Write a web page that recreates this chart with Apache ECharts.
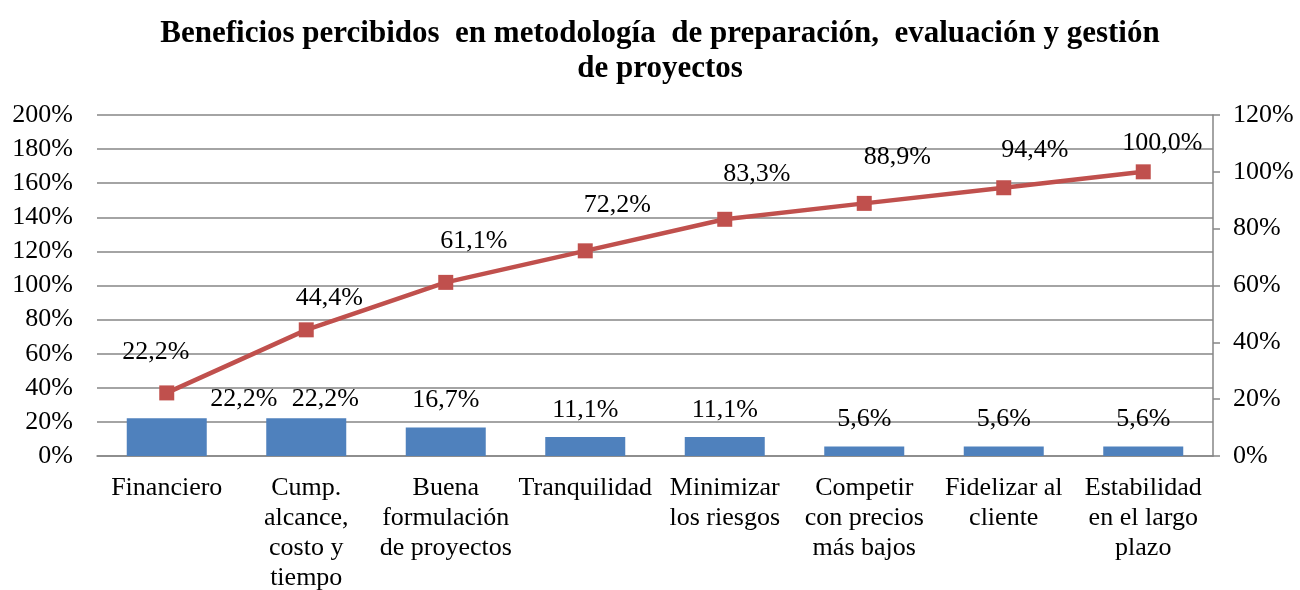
<!DOCTYPE html>
<html>
<head>
<meta charset="utf-8">
<script src="https://cdn.jsdelivr.net/npm/echarts@6/dist/echarts.min.js"></script>
<style>
  html, body { margin: 0; padding: 0; background: #fff; }
  #chart { width: 1300px; height: 590px; }
</style>
</head>
<body>
<div id="chart"></div>
<script>
const categories = [
  "Financiero",
  "Cump.\nalcance,\ncosto y\ntiempo",
  "Buena\nformulación\nde proyectos",
  "Tranquilidad",
  "Minimizar\nlos riesgos",
  "Competir\ncon precios\nmás bajos",
  "Fidelizar al\ncliente",
  "Estabilidad\nen el largo\nplazo",
];
const frequency = [22.2, 22.2, 16.7, 11.1, 11.1, 5.6, 5.6, 5.6];
const cumulative = [22.2, 44.4, 61.1, 72.2, 83.3, 88.9, 94.4, 100.0];

// hand-placed label nudges from the original chart
const barLabelOffsets = [[77, 8], [19, 8], [0, 0], [0, 0], [0, 0], [0, 0], [0, 0], [0, 0]];
const lineLabelOffsets = [[-11, -41], [23, -32], [28, -41], [32, -46], [32, -45], [33, -46], [31, -38], [19, -29]];

const font = "'Liberation Serif', 'Times New Roman', serif";
const gridColor = "#868686";
const labelSize = 26;

function pct(value) {
  return value.toFixed(1).replace(".", ",") + "%";
}

const chart = echarts.init(document.getElementById("chart"));

chart.setOption({
  animation: false,
  backgroundColor: "#fff",
  textStyle: { fontFamily: font },
  title: {
    text: "Beneficios percibidos  en metodología  de preparación,  evaluación y gestión\nde proyectos",
    left: 655,
    textAlign: "center",
    top: 11,
    textStyle: {
      fontFamily: font,
      fontSize: 31,
      fontWeight: "bold",
      color: "#000",
      lineHeight: 35,
    },
  },
  grid: { left: 97, right: 87, top: 115, bottom: 134, outerBoundsMode: "none" },
  xAxis: {
    type: "category",
    data: categories,
    axisLine: { lineStyle: { color: gridColor, width: 1.5 } },
    axisTick: { show: false },
    axisLabel: {
      color: "#000",
      fontFamily: font,
      fontSize: labelSize,
      lineHeight: 30,
      margin: 17,
      interval: 0,
    },
  },
  yAxis: [
    {
      type: "value",
      min: 0,
      max: 200,
      interval: 20,
      axisLine: { show: false },
      axisTick: { show: false },
      splitLine: { lineStyle: { color: gridColor, width: 1.5 } },
      axisLabel: {
        color: "#000",
        fontFamily: font,
        fontSize: labelSize,
        margin: 24,
        formatter: "{value}%",
      },
    },
    {
      type: "value",
      min: 0,
      max: 120,
      interval: 20,
      position: "right",
      axisLine: { show: true, lineStyle: { color: gridColor, width: 1.5 } },
      axisTick: { show: true, length: 7, lineStyle: { color: gridColor, width: 1.5 } },
      splitLine: { show: false },
      axisLabel: {
        color: "#000",
        fontFamily: font,
        fontSize: labelSize,
        margin: 20,
        formatter: "{value}%",
      },
    },
  ],
  series: [
    {
      type: "bar",
      yAxisIndex: 0,
      barWidth: 80,
      itemStyle: { color: "#4F81BD" },
      data: frequency.map((v, i) => ({
        value: v,
        label: { offset: barLabelOffsets[i] },
      })),
      label: {
        show: true,
        position: "top",
        distance: 14,
        color: "#000",
        fontFamily: font,
        fontSize: labelSize,
        formatter: (p) => pct(p.value),
      },
      z: 2,
    },
    {
      type: "line",
      yAxisIndex: 1,
      symbol: "rect",
      symbolSize: 15,
      itemStyle: { color: "#C0504D" },
      lineStyle: { color: "#C0504D", width: 4.5 },
      data: cumulative.map((v, i) => ({
        value: v,
        label: { offset: lineLabelOffsets[i] },
      })),
      label: {
        show: true,
        position: "inside",
        align: "center",
        verticalAlign: "middle",
        color: "#000",
        fontFamily: font,
        fontSize: labelSize,
        formatter: (p) => pct(p.value),
      },
      z: 3,
    },
  ],
});
</script>
</body>
</html>
